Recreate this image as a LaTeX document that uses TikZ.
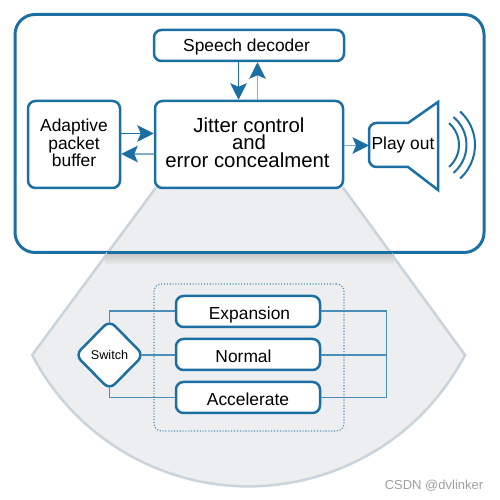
\documentclass[tikz,border=0pt]{standalone}
\usepackage{fontspec}
\setmainfont{Liberation Sans}
\usetikzlibrary{arrows.meta,shapes.geometric}
\definecolor{linkblue}{HTML}{1B6FA3}
\definecolor{linklight}{HTML}{7FAECB}
\definecolor{wireblue}{HTML}{4A8FBA}
\definecolor{fangray}{HTML}{ECEEF0}
\definecolor{fanedge}{HTML}{C9D4DC}

\begin{document}
\begin{tikzpicture}[>={Stealth[length=3.3mm,width=3.3mm,inset=0.7mm]},font=\fontsize{9.9}{10}\selectfont,
  box/.style={rectangle,rounded corners=1.5mm,draw=linkblue,line width=0.5mm,fill=white,align=center,inner sep=0pt},
  link/.style={linkblue,line width=0.25mm},
  linkpale/.style={linklight,line width=0.3mm,arrows={-{Stealth[length=3.3mm,width=3.3mm,inset=0.7mm,linkblue]}}},
  wire/.style={wireblue,line width=0.22mm}]
\useasboundingbox (0,0) rectangle (9.98,10);
% outer frame and fan
\node[box,rounded corners=4mm,line width=0.6mm,minimum width=9.38cm,minimum height=4.76cm] (frame) at (4.99,7.33) {};
\coordinate (fanTL) at (3.12,6.25);
\coordinate (fanTR) at (6.86,6.25);
\coordinate (fanL) at (0.64,2.9);
\coordinate (fanR) at (9.3,2.9);
\fill[fangray] (fanTL) -- (fanTR) -- (fanR) arc[start angle=-27.5,end angle=-152.5,radius=4.88] -- cycle;
\draw[fanedge,line width=0.5mm] (fanTR) -- (fanR) arc[start angle=-27.5,end angle=-152.5,radius=4.88] -- (fanTL);
\shade[top color=gray!40,bottom color=fangray] (2.1,4.9) rectangle (7.88,4.7);
\draw[linkblue,line width=0.6mm] (2.14,4.94) -- (7.84,4.94);
% upper blocks
\node[box,minimum width=3.8cm,minimum height=0.62cm] (decoder) at (4.98,9.09) {\rule{0pt}{3.3mm}Speech decoder\hspace*{1mm}};
\node[box,minimum width=3.76cm,minimum height=1.74cm,font=\fontsize{11.6}{10}\selectfont] (jitter) at (4.98,7.11) {Jitter control\\and\\error concealment\rule[-0.8mm]{0pt}{0pt}\hspace*{0.6mm}};
\node[box,minimum width=1.84cm,minimum height=1.74cm] (buffer) at (1.48,7.11) {Adaptive\\packet\\buffer\rule[-0.6mm]{0pt}{0pt}};
% speaker
\coordinate (waves) at (8.6,7.1);
\coordinate (spkin) at (7.38,7.09);
\draw[linkblue,line width=0.5mm,fill=white] (8.16,7.54) -- (8.76,7.96) -- (8.76,6.2) -- (8.16,6.66)
  {[rounded corners=1.5mm] -- (7.38,6.66) -- (7.38,7.54)} -- cycle;
\node[inner sep=0pt] (playout) at (8.06,7.09) {Play out};
\foreach \rad/\ang in {0.58/49,0.73/50,0.9/48}
  \draw[linkblue,line width=0.4mm] (waves) ++(-\ang:\rad) arc[start angle=-\ang,end angle=\ang,radius=\rad];
% arrows
\draw[link,->] ([xshift=-2.1mm]decoder.south) -- ([xshift=-2.1mm]jitter.north);
\draw[linkpale] ([xshift=1.7mm]jitter.north) -- ([xshift=1.7mm]decoder.south);
\draw[link,->] ([yshift=2.2mm]buffer.east) -- ([yshift=2.2mm]jitter.west);
\draw[linkpale] ([yshift=-1.9mm]jitter.west) -- ([yshift=-1.9mm]buffer.east);
\draw[linkpale] (jitter.east |- spkin) -- (spkin);
% lower blocks
\node[draw=wireblue,densely dotted,rounded corners=1.5mm,line width=0.22mm,minimum width=3.8cm,minimum height=2.94cm] (group) at (4.98,2.85) {};
\node[box,minimum width=2.88cm,minimum height=0.62cm] (expansion) at (4.96,3.77) {\rule{0pt}{4.1mm}\hspace*{0.6mm}Expansion};
\node[box,minimum width=2.88cm,minimum height=0.62cm] (normal) at (4.96,2.91) {\rule{0pt}{3.3mm}\hspace*{-1.8mm}Normal};
\node[box,minimum width=2.88cm,minimum height=0.62cm] (accelerate) at (4.96,2.05) {\rule{0pt}{3.3mm}Accelerate};
\node[diamond,draw=linkblue,line width=0.5mm,rounded corners=1.5mm,fill=white,inner sep=0pt,minimum width=1.38cm,minimum height=1.4cm,font=\fontsize{7.2}{8}\selectfont] (switch) at (2.19,2.9) {Switch};
\coordinate (busE) at (7.73,3.78);
\coordinate (busN) at (7.73,2.9);
\coordinate (busA) at (7.73,2.05);
\draw[wire] ([yshift=-0.6mm]switch.north) |- (expansion.west |- busE);
\draw[wire] ([xshift=-0.6mm]switch.east) -- (normal.west |- switch.east);
\draw[wire] ([yshift=0.6mm]switch.south) |- (accelerate.west |- busA);
\draw[wire] (expansion.east |- busE) -- (busE) -- (busA) -- (accelerate.east |- busA);
\draw[wire] (normal.east |- busN) -- (busN);
\node[text=gray!75,font=\fontsize{7.4}{8}\selectfont,inner sep=0pt] (mark) at (8.68,0.28) {CSDN @dvlinker};
\end{tikzpicture}
\end{document}
